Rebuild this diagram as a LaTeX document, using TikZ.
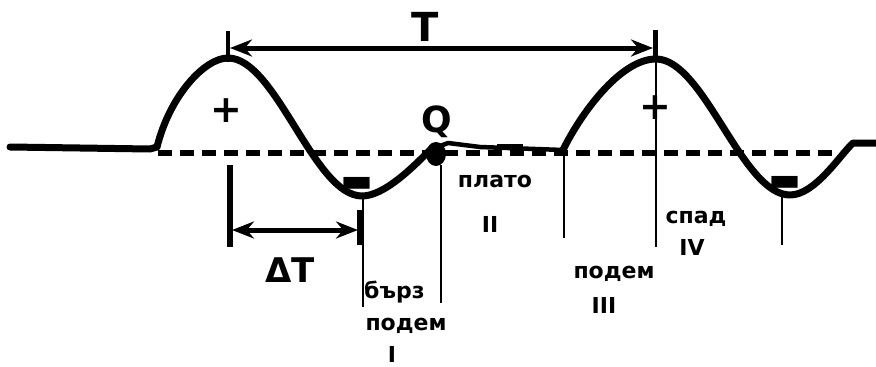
\documentclass[tikz,border=0pt]{standalone}
\usepackage{fontspec}
\setmainfont{DejaVu Sans}
\usetikzlibrary{arrows.meta}
\begin{document}
\begin{tikzpicture}[x=1pt,y=-1pt,
  wave/.style={line width=7pt, line join=round, line cap=round},
  flat/.style={line width=4.5pt, line join=round},
  baseline dash/.style={line width=6.5pt, dash pattern=on 14pt off 8pt},
  thinline/.style={line width=1.6pt},
  thickbar/.style={line width=5.5pt},
  dimarrow/.style={line width=5pt, {Stealth[length=22pt,width=17pt]}-{Stealth[length=22pt,width=17pt]}},
  lbl/.style={font=\bfseries\fontsize{22}{22}\selectfont, inner sep=0pt, anchor=base},
  big/.style={font=\bfseries\fontsize{40}{40}\selectfont, inner sep=0pt},
  sign/.style={font=\bfseries\fontsize{38}{38}\selectfont, inner sep=0pt},
  minussign/.style={sign, xscale=1.1, yscale=2.7},
]
\useasboundingbox (0,0) rectangle (876,367);

% key points
\coordinate (b0) at (10,147);
\coordinate (b1) at (150,149);
\coordinate (s1) at (157,147);
\coordinate (p1) at (228,58);
\coordinate (t1) at (362,196);
\coordinate (d1) at (430,150);
\coordinate (q1) at (448,143);
\coordinate (q2) at (480,147);
\coordinate (e1) at (563,150);
\coordinate (p2) at (656,59);
\coordinate (t2) at (790,195);
\coordinate (r1) at (853,143);
\coordinate (r2) at (880,143);

% baseline solid and dashed
\draw[wave] (b0) -- (b1) -- (s1);
\coordinate (da) at (158,153);
\coordinate (db) at (840,153);
\draw[baseline dash] (da) -- (db);

% wave
\draw[wave] (s1) .. controls (170,95) and (205,58) .. (p1)
  .. controls (276,58) and (314,196) .. (t1)
  .. controls (385,196) and (415,165) .. (d1);
\draw[flat] (d1) -- (q1) -- (q2) -- (e1);
\draw[wave] (e1) .. controls (580,115) and (620,59) .. (p2)
  .. controls (704,59) and (742,195) .. (t2)
  .. controls (815,195) and (840,155) .. (r1) -- (r2);

% dot and Q
\fill (436,154) ellipse (10 and 12);
\node[big, font=\bfseries\fontsize{36}{36}\selectfont] (Q) at (437,122) {Q};
\coordinate (m1) at (497,145);
\coordinate (m2) at (523,145);
\draw[line width=3pt] (m1) -- (m2);

% signs
\node[sign] (plus1) at (226,111) {+};
\node[sign] (plus2) at (655,108) {+};
\node[minussign] (minus1) at (357,196) {−};
\node[minussign] (minus2) at (785,195) {−};

% T dimension
\coordinate (T1a) at (228,31);
\coordinate (T1b) at (228,62);
\coordinate (T2a) at (655,30);
\coordinate (T2b) at (655,58);
\draw[line width=4.5pt] (T1a) -- (T1b);
\draw[line width=5pt] (T2a) -- (T2b);
\coordinate (Ta) at (230,48);
\coordinate (Tb) at (653,48);
\draw[dimarrow] (Ta) -- (Tb);
\node[big] (T) at (425,27) {T};

% Delta T dimension
\coordinate (dt1a) at (230,165);
\coordinate (dt1b) at (230,247);
\coordinate (dt2a) at (360,210);
\coordinate (dt2b) at (360,245);
\draw[thickbar] (dt1a) -- (dt1b);
\draw[thickbar] (dt2a) -- (dt2b);
\coordinate (dta) at (232,230);
\coordinate (dtb) at (358,230);
\draw[dimarrow] (dta) -- (dtb);
\node[big, font=\bfseries\fontsize{34}{34}\selectfont] (DT) at (290,270) {ΔT};

% thin marker lines
\coordinate (v1a) at (363,198); \coordinate (v1b) at (363,307);
\coordinate (v2a) at (441,165); \coordinate (v2b) at (441,303);
\coordinate (v3a) at (564,150); \coordinate (v3b) at (564,238);
\coordinate (v4a) at (656,60);  \coordinate (v4b) at (656,247);
\coordinate (v5a) at (782,196); \coordinate (v5b) at (782,245);
\draw[thinline] (v1a) -- (v1b);
\draw[thinline] (v2a) -- (v2b);
\draw[thinline] (v3a) -- (v3b);
\draw[thinline] (v4a) -- (v4b);
\draw[thinline] (v5a) -- (v5b);

% labels
\node[lbl, anchor=base west] (l1) at (364,298) {бърз};
\node[lbl] (l2) at (406,330) {подем};
\node[lbl] (l3) at (392,362) {I};
\node[lbl] (l4) at (495,187) {плато};
\node[lbl] (l5) at (490,232) {II};
\node[lbl] (l6) at (614,278) {подем};
\node[lbl] (l7) at (604,313) {III};
\node[lbl] (l8) at (696,223) {спад};
\node[lbl] (l9) at (692,255) {IV};
\end{tikzpicture}
\end{document}
